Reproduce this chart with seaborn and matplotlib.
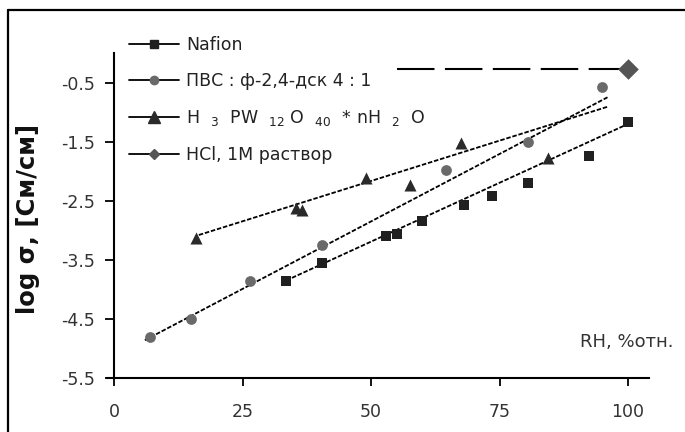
import matplotlib
matplotlib.use("Agg")
import matplotlib.pyplot as plt
from matplotlib.lines import Line2D
import seaborn as sns

# ---- data ----
nafion_x = [33.5, 40.5, 53, 55, 60, 68, 73.5, 80.5, 92.5, 100]
nafion_y = [-3.85, -3.55, -3.1, -3.07, -2.85, -2.57, -2.42, -2.2, -1.75, -1.17]
pvs_x = [7, 15, 26.5, 40.5, 64.5, 80.5, 95]
pvs_y = [-4.8, -4.5, -3.85, -3.25, -1.98, -1.5, -0.57]
hpw_x = [16, 35.5, 36.5, 49, 57.5, 67.5, 84.5]
hpw_y = [-3.13, -2.62, -2.66, -2.12, -2.24, -1.52, -1.77]
hcl_x = [100]
hcl_y = [-0.27]

# trend lines (end points)
nafion_trend_x = [33.5, 100]
nafion_trend_y = [-3.85, -1.2]
pvs_trend_x = [6, 96]
pvs_trend_y = [-4.86, -0.75]
hpw_trend_x = [16.5, 96]
hpw_trend_y = [-3.08, -0.91]
hcl_line_x = [55, 100]
hcl_line_y = [-0.27, -0.27]

labels = ["Nafion", "ПВС : ф-2,4-дск 4 : 1",
          "H  $_{3}$  PW  $_{12}$ O  $_{40}$  * nH  $_{2}$  O", "HCl, 1M раствор"]
x_ticks = [0, 25, 50, 75, 100]
y_ticks = [-5.5, -4.5, -3.5, -2.5, -1.5, -0.5]
y_tick_labels = ["-5.5", "-4.5", "-3.5", "-2.5", "-1.5", "-0.5"]

sns.set_theme(style="white")
plt.rcParams["font.family"] = ["DejaVu Sans"]
plt.rcParams["mathtext.fontset"] = "dejavusans"

W, H = 685, 432
fig = plt.figure(figsize=(W / 100, H / 100), dpi=100)
ax = fig.add_axes([114 / W, 54 / H, 534.6 / W, 325 / H])

c_naf = "#202020"
c_pvs = "#6a6a6a"
c_hpw = "#2a2a2a"
c_hcl = "#555555"
trend_kw = dict(color="black", linewidth=1.3, linestyle=(0, (2.5, 1)))

# trend lines
sns.lineplot(x=nafion_trend_x, y=nafion_trend_y, ax=ax, **trend_kw)
sns.lineplot(x=pvs_trend_x, y=pvs_trend_y, ax=ax, **trend_kw)
sns.lineplot(x=hpw_trend_x, y=hpw_trend_y, ax=ax, **trend_kw)
sns.lineplot(x=hcl_line_x, y=hcl_line_y, ax=ax, color="black", linewidth=1.5,
             linestyle=(0, (18, 5)))

# markers
sns.scatterplot(x=nafion_x, y=nafion_y, ax=ax, marker="s", s=45, color=c_naf,
                edgecolor=c_naf, linewidth=0, zorder=4)
sns.scatterplot(x=pvs_x, y=pvs_y, ax=ax, marker="o", s=60, color=c_pvs,
                edgecolor=c_pvs, linewidth=0, zorder=4)
sns.scatterplot(x=hpw_x, y=hpw_y, ax=ax, marker="^", s=75, color=c_hpw,
                edgecolor=c_hpw, linewidth=0, zorder=4)
sns.scatterplot(x=hcl_x, y=hcl_y, ax=ax, marker="D", s=110, color=c_hcl,
                edgecolor=c_hcl, linewidth=0, zorder=4, clip_on=False)

ax.set_xlim(0, 104)
ax.set_ylim(-5.5, 0)
ax.set_xticks(x_ticks)
ax.set_yticks(y_ticks)
ax.set_yticklabels(y_tick_labels)
ax.tick_params(axis="y", direction="out", length=6.5, width=1.3, left=True,
               labelsize=12.5, pad=7, colors="black", labelcolor="#333333")
ax.tick_params(axis="x", direction="out", length=6, width=1.3, bottom=True,
               labelsize=12.5, pad=12, colors="black", labelcolor="#333333")
for side in ["top", "right"]:
    ax.spines[side].set_visible(False)
for side in ["left", "bottom"]:
    ax.spines[side].set_color("black")
    ax.spines[side].set_linewidth(1.5)
ax.spines["bottom"].set_bounds(-1.3, 104)

ax.set_ylabel("log σ, [См/см]", fontsize=17.5, fontweight="bold", color="#111111")
ax.yaxis.set_label_coords(-0.138, 0.49)
ax.set_xlabel("")
ax.text(108.75, -4.97, "RH, %отн.", ha="right", va="baseline", fontsize=13,
        color="#333333", clip_on=False)

handles = [
    Line2D([], [], color="black", lw=1.3, marker="s", ms=5.5, mfc=c_naf, mec=c_naf),
    Line2D([], [], color="black", lw=1.3, marker="o", ms=6, mfc=c_pvs, mec=c_pvs),
    Line2D([], [], color="black", lw=1.3, marker="^", ms=9, mfc=c_hpw, mec=c_hpw),
    Line2D([], [], color="black", lw=1.3, marker="D", ms=5.5, mfc=c_hcl, mec=c_hcl),
]
leg = fig.legend(handles, labels, loc="upper left",
                 bbox_to_anchor=(116.5 / W, 1 - 23.5 / H),
                 frameon=False, fontsize=12.5, handlelength=2.9, handletextpad=0.4,
                 labelspacing=1.03, borderpad=0.72, borderaxespad=0)
leg.set_zorder(10)
for t in leg.get_texts():
    t.set_color("#222222")

# outer frame (left and top edges visible)
fig.add_artist(Line2D([7.5 / W, 7.5 / W], [0, 1 - 9.5 / H], color="black", lw=1.6))
fig.add_artist(Line2D([7.5 / W, 1], [1 - 9.5 / H, 1 - 9.5 / H], color="black", lw=1.6))

fig.savefig("out.png", dpi=100)
